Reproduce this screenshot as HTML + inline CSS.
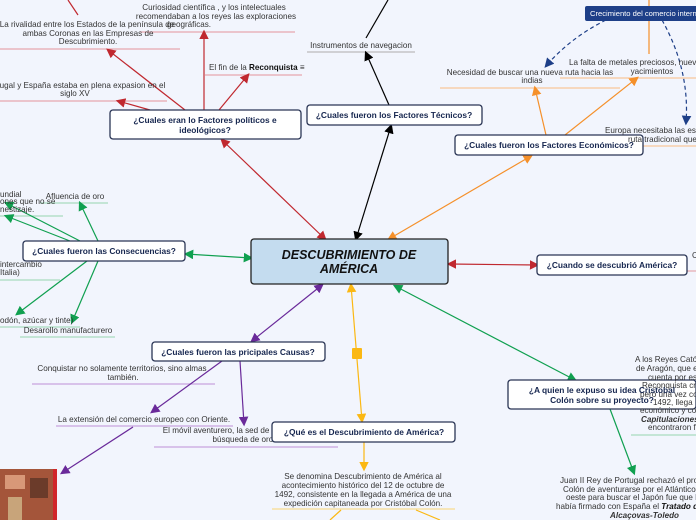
<!DOCTYPE html>
<html><head><meta charset="utf-8"><style>
html,body{margin:0;padding:0;background:#f2f5fd;overflow:hidden}
svg{display:block;font-family:"Liberation Sans",sans-serif}
.t{font-size:8.1px;fill:#333;text-anchor:middle}
.b{font-size:8.4px;font-weight:bold;fill:#16264f;text-anchor:middle}
.l{font-size:8.1px;fill:#333}
.n{fill:#fff;stroke:#2a3555;stroke-width:1.3}
</style></head><body>
<svg width="696" height="520" viewBox="0 0 696 520">
<defs>
<marker id="r" markerWidth="8" markerHeight="8" refX="6" refY="4" orient="auto-start-reverse"><path d="M0,0L8,4L0,8z" fill="#c0282f"/></marker>
<marker id="k" markerWidth="8" markerHeight="8" refX="6" refY="4" orient="auto-start-reverse"><path d="M0,0L8,4L0,8z" fill="#000"/></marker>
<marker id="o" markerWidth="8" markerHeight="8" refX="6" refY="4" orient="auto-start-reverse"><path d="M0,0L8,4L0,8z" fill="#f5902a"/></marker>
<marker id="g" markerWidth="8" markerHeight="8" refX="6" refY="4" orient="auto-start-reverse"><path d="M0,0L8,4L0,8z" fill="#10a050"/></marker>
<marker id="p" markerWidth="8" markerHeight="8" refX="6" refY="4" orient="auto-start-reverse"><path d="M0,0L8,4L0,8z" fill="#6a2a9a"/></marker>
<marker id="y" markerWidth="8" markerHeight="8" refX="6" refY="4" orient="auto-start-reverse"><path d="M0,0L8,4L0,8z" fill="#fbb813"/></marker>
<marker id="d" markerWidth="8" markerHeight="8" refX="6" refY="4" orient="auto-start-reverse"><path d="M0,0L8,4L0,8z" fill="#1e3f88"/></marker>
</defs>
<g stroke-width="1.2">
<line x1="140" y1="32" x2="295" y2="32" stroke="#e7a8b0"/>
<line x1="0" y1="49" x2="180" y2="49" stroke="#e7a8b0"/>
<line x1="0" y1="101" x2="167" y2="101" stroke="#e7a8b0"/>
<line x1="205" y1="75" x2="302" y2="75" stroke="#e7a8b0"/>
<line x1="307" y1="52" x2="415" y2="52" stroke="#bbb"/>
<line x1="440" y1="88" x2="620" y2="88" stroke="#f8c79a"/>
<line x1="560" y1="78" x2="696" y2="78" stroke="#f8c79a"/>
<line x1="600" y1="146" x2="696" y2="146" stroke="#f8c79a"/>
<line x1="40" y1="203" x2="108" y2="203" stroke="#a8dcc0"/>
<line x1="0" y1="216" x2="63" y2="216" stroke="#a8dcc0"/>
<line x1="0" y1="280" x2="60" y2="280" stroke="#a8dcc0"/>
<line x1="0" y1="327" x2="80" y2="327" stroke="#a8dcc0"/>
<line x1="20" y1="337" x2="115" y2="337" stroke="#a8dcc0"/>
<line x1="32" y1="384" x2="215" y2="384" stroke="#c8a4e0"/>
<line x1="56" y1="426" x2="233" y2="426" stroke="#c8a4e0"/>
<line x1="154" y1="447" x2="338" y2="447" stroke="#c8a4e0"/>
<line x1="272" y1="509" x2="455" y2="509" stroke="#f8dc90"/>
<line x1="631" y1="435" x2="696" y2="435" stroke="#a8dcc0"/>
<line x1="686" y1="271" x2="696" y2="271" stroke="#e7a8b0"/>
</g>
<g fill="none" stroke-width="1.2">
<line x1="325" y1="239" x2="222" y2="140" stroke="#c0282f" marker-end="url(#r)" marker-start="url(#r)"/>
<line x1="185" y1="110" x2="108" y2="50" stroke="#c0282f" marker-end="url(#r)"/>
<line x1="150" y1="110" x2="118" y2="101" stroke="#c0282f" marker-end="url(#r)"/>
<line x1="204" y1="110" x2="204" y2="32" stroke="#c0282f" marker-end="url(#r)"/>
<line x1="219" y1="110" x2="248" y2="75" stroke="#c0282f" marker-end="url(#r)"/>
<line x1="78" y1="15" x2="68" y2="0" stroke="#c0282f"/>
<line x1="356" y1="239" x2="391" y2="126" stroke="#000" marker-end="url(#k)" marker-start="url(#k)"/>
<line x1="389" y1="105" x2="366" y2="53" stroke="#000" marker-end="url(#k)"/>
<line x1="366" y1="38" x2="388" y2="0" stroke="#000"/>
<line x1="389" y1="239" x2="531" y2="156" stroke="#f5902a" marker-end="url(#o)" marker-start="url(#o)"/>
<line x1="546" y1="135" x2="535" y2="88" stroke="#f5902a" marker-end="url(#o)"/>
<line x1="565" y1="135" x2="637" y2="78" stroke="#f5902a" marker-end="url(#o)"/>
<line x1="649" y1="54" x2="649" y2="0" stroke="#f5902a"/>
<path d="M606,20 Q570,38 546,66" stroke="#1e3f88" stroke-dasharray="4,3" marker-end="url(#d)"/>
<path d="M662,20 Q690,70 686,123" stroke="#1e3f88" stroke-dasharray="4,3" marker-end="url(#d)"/>
<line x1="251" y1="258" x2="186" y2="254" stroke="#10a050" marker-end="url(#g)" marker-start="url(#g)"/>
<line x1="98" y1="241" x2="80" y2="203" stroke="#10a050" marker-end="url(#g)"/>
<line x1="80" y1="241" x2="6" y2="203" stroke="#10a050" marker-end="url(#g)"/>
<line x1="70" y1="241" x2="6" y2="216" stroke="#10a050" marker-end="url(#g)"/>
<line x1="87" y1="261" x2="17" y2="314" stroke="#10a050" marker-end="url(#g)"/>
<line x1="98" y1="261" x2="72" y2="322" stroke="#10a050" marker-end="url(#g)"/>
<line x1="449" y1="264" x2="537" y2="265" stroke="#c0282f" marker-end="url(#r)" marker-start="url(#r)"/>
<line x1="322" y1="285" x2="252" y2="341" stroke="#6a2a9a" marker-end="url(#p)" marker-start="url(#p)"/>
<line x1="222" y1="361" x2="152" y2="412" stroke="#6a2a9a" marker-end="url(#p)"/>
<line x1="240" y1="361" x2="244" y2="424" stroke="#6a2a9a" marker-end="url(#p)"/>
<line x1="133" y1="427" x2="62" y2="473" stroke="#6a2a9a" marker-end="url(#p)"/>
<line x1="351" y1="285" x2="362" y2="421" stroke="#fbb813" marker-end="url(#y)" marker-start="url(#y)"/>
<line x1="364" y1="442" x2="364" y2="469" stroke="#fbb813" marker-end="url(#y)"/>
<line x1="341" y1="510" x2="330" y2="520" stroke="#fbb813"/>
<line x1="416" y1="510" x2="440" y2="520" stroke="#fbb813"/>
<line x1="395" y1="286" x2="575" y2="380" stroke="#10a050" marker-end="url(#g)" marker-start="url(#g)"/>
<line x1="610" y1="409" x2="634" y2="473" stroke="#10a050" marker-end="url(#g)"/>
</g>
<rect x="352" y="348" width="10" height="11" rx="1" fill="#fbb813"/>
<rect x="0" y="469" width="57" height="51" fill="#a4553a"/>
<rect x="5" y="475" width="20" height="14" fill="#d89878"/><rect x="30" y="478" width="18" height="20" fill="#6b3b2a"/>
<rect x="8" y="497" width="14" height="23" fill="#c8a47a"/><rect x="53" y="469" width="4" height="51" fill="#d0262a"/>
<rect x="251" y="239" width="197" height="45" rx="3" fill="#c4dcef" stroke="#222" stroke-width="1.3"/>
<text x="349" y="259" font-size="12.5" font-weight="bold" font-style="italic" text-anchor="middle" fill="#111">DESCUBRIMIENTO DE</text>
<text x="349" y="273" font-size="12.5" font-weight="bold" font-style="italic" text-anchor="middle" fill="#111">AMÉRICA</text>
<rect class="n" x="110" y="110" width="191" height="29" rx="3"/>
<text class="b" x="205" y="123">¿Cuales eran lo Factores políticos e</text>
<text class="b" x="205" y="133">ideológicos?</text>
<rect class="n" x="307" y="105" width="175" height="20" rx="3"/>
<text class="b" x="394" y="118">¿Cuales fueron los Factores Técnicos?</text>
<rect class="n" x="455" y="135" width="188" height="20" rx="3"/>
<text class="b" x="549" y="148">¿Cuales fueron los Factores Económicos?</text>
<rect class="n" x="23" y="241" width="162" height="20" rx="3"/>
<text class="b" x="104" y="254">¿Cuales fueron las Consecuencias?</text>
<rect class="n" x="537" y="255" width="150" height="20" rx="3"/>
<text class="b" x="612" y="268">¿Cuando se descubrió América?</text>
<rect class="n" x="152" y="342" width="173" height="19" rx="3"/>
<text class="b" x="238" y="355">¿Cuales fueron las pricipales Causas?</text>
<rect class="n" x="508" y="380" width="188" height="29" rx="3"/>
<rect x="585" y="6" width="115" height="15" rx="2" fill="#1e3f88"/>
<text x="590" y="16" font-size="7.6" fill="#fff">Crecimiento del comercio interna</text>
<text class="t" x="214" y="10">Curiosidad científica , y los intelectuales</text>
<text class="t" x="216" y="19">recomendaban a los reyes las exploraciones</text>
<text class="t" x="189" y="27">geográficas.</text>
<text class="t" x="87" y="27">La rivalidad entre los Estados de la península de</text>
<text class="t" x="88" y="36">ambas Coronas en las Empresas de</text>
<text class="t" x="88" y="44">Descubrimiento.</text>
<text class="t" x="80" y="88">rtugal y España estaba en plena expasion en el</text>
<text class="t" x="75" y="96">siglo XV</text>
<text class="l" x="209" y="70">El fin de la <tspan font-weight="bold" fill="#111">Reconquista</tspan>   ≡</text>
<text class="t" x="361" y="48">Instrumentos de navegacion</text>
<text class="t" x="530" y="75">Necesidad de buscar una nueva ruta hacia las</text>
<text class="t" x="532" y="83">indias</text>
<text class="l" x="569" y="65">La falta de metales preciosos, nueva</text>
<text class="t" x="652" y="74">yacimientos</text>
<text class="l" x="605" y="133">Europa necesitaba las esp</text>
<text class="l" x="628" y="142">ruta tradicional que</text>
<text class="t" x="75" y="199">Afluencia de oro</text>
<text class="l" x="0" y="197">undial</text>
<text class="l" x="0" y="204">ones que no se</text>
<text class="l" x="0" y="212">nestizaje.</text>
<text class="l" x="0" y="267">intercambio</text>
<text class="l" x="0" y="275">Italia)</text>
<text class="l" x="0" y="323">odón, azúcar y tinte)</text>
<text class="t" x="68" y="333">Desarollo manufacturero</text>
<text class="t" x="122" y="371">Conquistar no solamente territorios, sino almas</text>
<text class="t" x="123" y="380">también.</text>
<text class="t" x="144" y="422">La extensión del comercio europeo con Oriente.</text>
<text class="t" x="244" y="433">El móvil aventurero, la sed de conquistas y la</text>
<text class="t" x="244" y="442">búsqueda de oro.</text>
<rect class="n" x="272" y="422" width="183" height="20" rx="3"/>
<text class="b" x="364" y="435">¿Qué es el Descubrimiento de América?</text>
<text class="t" x="363" y="479">Se denomina Descubrimiento de América al</text>
<text class="t" x="363" y="488">acontecimiento histórico del 12 de octubre de</text>
<text class="t" x="363" y="497">1492, consistente en la llegada a América de una</text>
<text class="t" x="363" y="506">expedición capitaneada por Cristóbal Colón.</text>
<text class="l" x="635" y="362">A los Reyes Catól</text>
<text class="l" x="636" y="371">de Aragón, que e</text>
<text class="l" x="648" y="380">cuenta por es</text>
<text class="l" x="642" y="388">Reconquista cri</text>
<text class="l" x="640" y="397">pero una vez co</text>
<text class="l" x="653" y="405">1492,  llega</text>
<text class="l" x="640" y="413">económico y con</text>
<text class="l" x="641" y="422" font-weight="bold" font-style="italic" fill="#111">Capitulaciones</text>
<text class="l" x="648" y="430">encontraron fi</text>
<text class="b" x="602" y="393">¿A quien le expuso su idea Cristobal</text>
<text class="b" x="602" y="403">Colón sobre su proyecto?</text>
<text class="l" x="560" y="483">Juan II Rey de Portugal rechazó el pro</text>
<text class="l" x="563" y="492">Colón de aventurarse por el Atlántico</text>
<text class="l" x="566" y="500">oeste para buscar el Japón fue que P</text>
<text class="l" x="556" y="509">había firmado con España el <tspan font-weight="bold" font-style="italic" fill="#111">Tratado d</tspan></text>
<text class="l" x="610" y="518" font-weight="bold" font-style="italic" fill="#111">Alcaçovas-Toledo</text>
<text class="l" x="692" y="258">C</text>
</svg>
</body></html>
